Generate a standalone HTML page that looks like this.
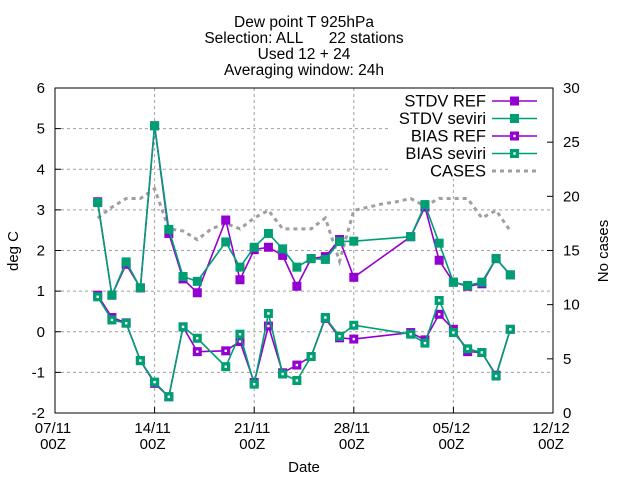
<!DOCTYPE html>
<html><head><meta charset="utf-8"><style>
body{margin:0;background:#fff}
svg{display:block;font-family:"Liberation Sans",sans-serif}
</style></head><body>
<svg id="c" width="640" height="480" viewBox="0 0 640 480" xmlns="http://www.w3.org/2000/svg">
<g id="title" font-size="15.5" text-anchor="middle" fill="#000" style="white-space:pre">
<text x="304" y="27">Dew point T 925hPa</text>
<text x="304" y="43" xml:space="preserve">Selection: ALL      22 stations</text>
<text x="304" y="59">Used 12 + 24</text>
<text x="304" y="75">Averaging window: 24h</text>
</g>
<g id="grid"></g>
<g id="axes"></g>
<g id="series"></g>
<g id="legend"></g>
</svg>
<script>
const days=[3,4,5,6,7,8,9,10,12,13,14,15,16,17,18,19,20,21,25,26,27,28,29,30,31,32];
const stdvRef=[3.2,0.9,1.66,1.08,5.07,2.42,1.3,0.96,2.75,1.28,2.02,2.08,1.88,1.12,1.8,1.85,2.27,1.34,2.34,3.07,1.76,1.22,1.12,1.18,1.8,1.4];
const stdvSev=[3.18,0.9,1.72,1.08,5.07,2.52,1.36,1.24,2.21,1.59,2.08,2.42,2.04,1.59,1.8,1.78,2.22,2.23,2.34,3.13,2.18,1.22,1.14,1.22,1.8,1.4];
const biasRef=[0.9,0.35,0.22,-0.71,-1.27,-1.6,0.12,-0.49,-0.47,-0.24,-1.25,0.14,-1.01,-0.82,-0.61,0.33,-0.15,-0.18,-0.02,-0.2,0.43,0.06,-0.49,-0.51,-1.07,0.06];
const biasSev=[0.86,0.29,0.21,-0.71,-1.24,-1.6,0.12,-0.16,-0.86,-0.06,-1.29,0.45,-1.04,-1.2,-0.61,0.35,-0.11,0.16,-0.06,-0.28,0.77,-0.02,-0.42,-0.51,-1.09,0.06];
const caseDays=[3,4,5,6,7,8,9,10,11,12,13,14,15,16,17,18,19,20,21,22,23,24,25,26,27,28,29,30,31,32];
const cases=[18,19,19.8,19.8,20.7,17,16.8,16,17,17.5,17,18,18.7,17,17,17,18,14,18.7,19,19.3,19.5,19.8,19.1,19.8,19.8,19.8,18,18.7,16.8];
const yTicks=[-2,-1,0,1,2,3,4,5,6];
const y2Ticks=[0,5,10,15,20,25,30];
const xTicks=[0,7,14,21,28,35];
const xLabels=["07/11","14/11","21/11","28/11","05/12","12/12"];

const L=55,R=553,T=88,B=413;
const X=d=>L+(R-L)*d/35;
const Y=v=>B-(B-T)*(v+2)/8;
const Y2=c=>B-(B-T)*c/30;
const NS="http://www.w3.org/2000/svg";
function mk(tag,attrs,parent){const e=document.createElementNS(NS,tag);for(const k in attrs)e.setAttribute(k,attrs[k]);parent.appendChild(e);return e;}
const grid=document.getElementById('grid'),axes=document.getElementById('axes'),ser=document.getElementById('series'),leg=document.getElementById('legend');
const gs={stroke:"#a0a0a0","stroke-width":1,"stroke-dasharray":"3,3",fill:"none"};
const FS=15;
yTicks.forEach(v=>{
 const l=mk('line',Object.assign({x1:L,x2:R,y1:Y(v),y2:Y(v)},gs),grid);
 
 
 const t=mk('line',{x1:L,x2:L+6,y1:Y(v),y2:Y(v),stroke:"#000"},axes);
 
 
 const tx=mk('text',{x:L-10,y:Y(v)+5,"text-anchor":"end","font-size":FS},axes);tx.textContent=v;
 
 
});
y2Ticks.forEach(v=>{
 const t=mk('line',{x1:R-6,x2:R,y1:Y2(v),y2:Y2(v),stroke:"#000"},axes);
 
 
 const tx=mk('text',{x:R+10,y:Y2(v)+5,"text-anchor":"start","font-size":FS},axes);tx.textContent=v;
 
 
});
xTicks.forEach((d,i)=>{
 if(i>0&&i<xTicks.length-1){const l=mk('line',Object.assign({x1:X(d),x2:X(d),y1:T,y2:B},gs),grid);
 
 }
 const t=mk('line',{x1:X(d),x2:X(d),y1:B-6,y2:B,stroke:"#000"},axes);
 
 
 const a=mk('text',{x:X(d)-2,y:433,"text-anchor":"middle","font-size":FS},axes);a.textContent=xLabels[i];
 
 
 const b=mk('text',{x:X(d)-2,y:449,"text-anchor":"middle","font-size":FS},axes);b.textContent="00Z";
 
 
});
const fr=mk('rect',{x:L,y:T,width:R-L,height:B-T,fill:"none",stroke:"#000","stroke-width":1},axes);


const xt=mk('text',{x:304,y:472,"text-anchor":"middle","font-size":FS},axes);xt.textContent="Date";


const yt=mk('text',{x:0,y:0,transform:"translate(18,251) rotate(-90)","text-anchor":"middle","font-size":FS},axes);yt.textContent="deg C";


const y2t=mk('text',{x:0,y:0,transform:"translate(608,251) rotate(-90)","text-anchor":"middle","font-size":FS},axes);y2t.textContent="No cases";



const lb=mk('rect',{x:388,y:89,width:164,height:90,fill:"#fff"},grid);



const P="#9400d3",G="#009e73";
function marker(x,y,col,hollow,parent){
 const r=mk('rect',{x:x-4.5,y:y-4.5,width:9,height:9,fill:col},parent);
 if(hollow){mk('rect',{x:x-1.2,y:y-1.2,width:2.4,height:2.4,fill:"#fff"},parent);}
 return r;
}
function series(name,vals,col,hollow){
 const g=mk('g',{},ser);
 
 
 const pts=days.map((d,i)=>X(d)+","+Y(vals[i])).join(" ");
 mk('polyline',{points:pts,fill:"none",stroke:col,"stroke-width":1.6},g);
 days.forEach((d,i)=>{const m=marker(X(d),Y(vals[i]),col,hollow,g);
  
  });
}
const cl=mk('polyline',{points:caseDays.map((d,i)=>X(d)+","+Y2(cases[i])).join(" "),fill:"none",stroke:"#a0a0a0","stroke-width":3,"stroke-dasharray":"4,4"},ser);


series('stdv-ref',stdvRef,P,false);
series('stdv-seviri',stdvSev,G,false);
series('bias-ref',biasRef,P,true);
series('bias-seviri',biasSev,G,true);

const entries=[["STDV REF",P,false,"line"],["STDV seviri",G,false,"line"],["BIAS REF",P,true,"line"],["BIAS seviri",G,true,"line"],["CASES","#a0a0a0",false,"dash"]];
entries.forEach((e,i)=>{
 const y=101+i*17.5;
 const g=mk('g',{},leg);
 
 
 const t=mk('text',{x:486,y:y+5.5,"text-anchor":"end","font-size":16.5},g);t.textContent=e[0];
 if(e[3]=="line"){mk('line',{x1:492,x2:537,y1:y,y2:y,stroke:e[1],"stroke-width":1.6},g);marker(514.5,y,e[1],e[2],g);}
 else mk('line',{x1:492,x2:537,y1:y,y2:y,stroke:e[1],"stroke-width":3,"stroke-dasharray":"4,4"},g);
});
</script>
</body></html>
